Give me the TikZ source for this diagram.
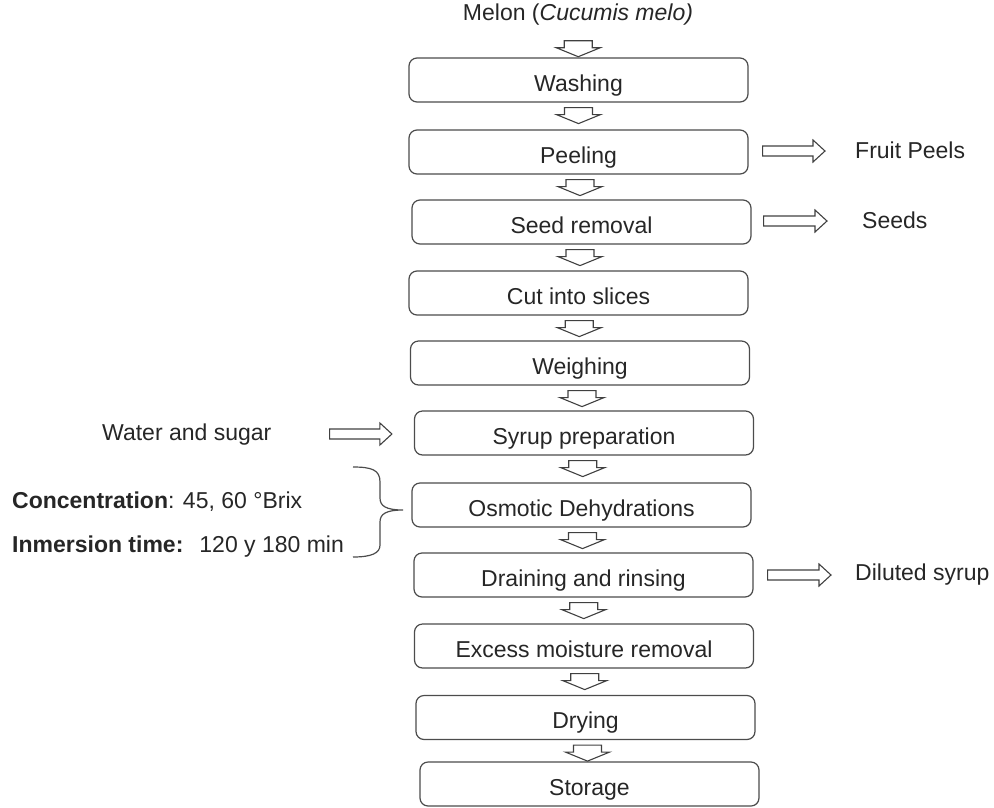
\documentclass[tikz,border=0pt]{standalone}
\usepackage{fontspec}
\setmainfont{Liberation Sans}
\usetikzlibrary{calc}

\begin{document}
\begin{tikzpicture}[x=1pt,y=1pt]
    \tikzstyle{procbox}=[rectangle,rounded corners=8pt,draw=black!70,line width=1.2pt,minimum width=339pt,minimum height=44pt,inner sep=0pt,text height=22pt,text depth=0pt,text=black!85,font=\fontsize{23}{27}\selectfont]
    \tikzstyle{sidetext}=[inner sep=0pt,text=black!85,font=\fontsize{23}{27}\selectfont]
    \tikzstyle{dnarrow}=[draw=black!75,line width=1.1pt,to path={let \p1=(\tikztostart), \p2=(\tikztotarget), \n1={0.5*\x1+0.5*\x2} in
        (\n1-14pt,\y1-5pt) -- (\n1-14pt,\y1-12pt) -- (\n1-22pt,\y1-12pt) -- (\n1,\y1-21pt) -- (\n1+22pt,\y1-12pt) -- (\n1+14pt,\y1-12pt) -- (\n1+14pt,\y1-5pt) -- cycle}]
    \tikzset{rtarrow/.style 2 args={draw=black!75,line width=1.1pt,to path={let \p1=(\tikztostart), \p2=(\tikztotarget), \n2={0.5*\y1+0.5*\y2} in
        (\x1+#1,\n2-5pt) -- (\x2-#2-12pt,\n2-5pt) -- (\x2-#2-12pt,\n2-11pt) -- (\x2-#2,\n2) -- (\x2-#2-12pt,\n2+11pt) -- (\x2-#2-12pt,\n2+5pt) -- (\x1+#1,\n2+5pt) -- cycle}}}

    \useasboundingbox (0,0) rectangle (994,-807);

    % main column
    \node[sidetext,outer ysep=10pt] (melon) at (578,-15) {Melon (\textit{Cucumis melo)}};
    \foreach \name/\x/\y/\txt in {wash/578.5/80/Washing, peel/578.5/152/Peeling, seed/581.5/222/Seed removal,
            cut/578.5/293/Cut into slices, weigh/580/363/Weighing, syrup/584/433/Syrup preparation,
            osmo/581.5/505/Osmotic Dehydrations, drain/583.5/575/Draining and rinsing,
            excess/584/646/Excess moisture removal, dry/585.5/717.5/Drying, store/589.5/784/Storage}
        \node[procbox] (\name) at (\x,-\y) {\txt};

    \foreach \from/\to in {melon/wash, wash/peel, peel/seed, seed/cut, cut/weigh, weigh/syrup,
            syrup/osmo, osmo/drain, drain/excess, excess/dry, dry/store}
        \draw[dnarrow] (\from.south) to (\to.north);

    % side streams
    \node[sidetext,anchor=west] (peels) at (855,-150) {Fruit Peels};
    \node[sidetext,anchor=west] (seeds) at (862,-220) {Seeds};
    \node[sidetext,anchor=west] (dsyrup) at (855,-575) {Diluted syrup};
    \node[sidetext,anchor=west] (water) at (102,-435) {Water and sugar};
    \node[sidetext,anchor=west] (conc) at (12,-502) {\textbf{Concentration}: 45, 60 °Brix};
    \node[sidetext,anchor=west] (inmer) at (12,-547) {\textbf{Inmersion time:}\hspace{16pt}120 y 180 min};

    \draw[rtarrow={14pt}{30pt}] (peel.east) to (peels.west);
    \draw[rtarrow={12pt}{35pt}] (seed.east) to (seeds.west);
    \draw[rtarrow={14pt}{24pt}] (drain.east) to (dsyrup.west);
    \draw[rtarrow={58pt}{22pt}] (water.east) to (syrup.west);

    % brace
    \draw[draw=black!70,line width=1.2pt] (353,-467) .. controls (372,-467) and (380,-470) .. (380,-482) -- (380,-498)
        .. controls (380,-506) and (386,-510) .. (403,-510) .. controls (386,-510) and (380,-514) .. (380,-522) -- (380,-545)
        .. controls (380,-553) and (372,-557) .. (353,-557);
\end{tikzpicture}
\end{document}
